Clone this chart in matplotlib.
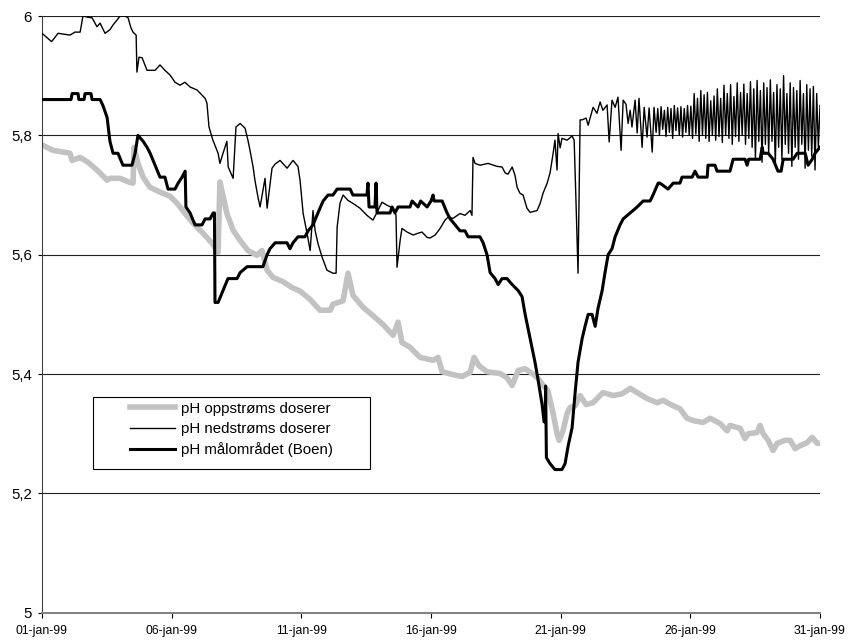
import numpy as np
import matplotlib
matplotlib.use("Agg")
import matplotlib.pyplot as plt
from matplotlib.patches import Rectangle
from matplotlib import font_manager as fm

# ---------------- data (day of January 1999, pH) ----------------
up_days = [1.00, 1.42, 2.08, 2.16, 2.47, 2.77, 3.12, 3.51, 3.62, 4.01, 4.39, 4.51, 4.55, 4.70,
           4.90, 5.16, 5.55, 5.94, 6.21, 6.52, 6.82, 7.21, 7.56, 7.79, 7.86, 8.13, 8.37, 8.64,
           8.94, 9.29, 9.48, 9.68, 9.91, 10.29, 10.64, 10.95, 11.34, 11.72, 12.11, 12.22, 12.61,
           12.80, 12.99, 13.38, 13.76, 14.15, 14.54, 14.73, 14.88, 15.19, 15.58, 16.08, 16.27,
           16.43, 16.85, 17.20, 17.51, 17.66, 17.85, 18.16, 18.66, 18.93, 19.13, 19.36, 19.63,
           19.90, 20.13, 20.32, 20.51, 20.71, 20.86, 20.94, 21.09, 21.25, 21.36, 21.56, 21.75,
           21.98, 22.25, 22.63, 23.02, 23.37, 23.68, 23.95, 24.33, 24.72, 24.95, 25.33, 25.60,
           25.87, 26.11, 26.49, 26.76, 27.15, 27.42, 27.53, 27.92, 28.11, 28.23, 28.57, 28.69,
           28.81, 29.00, 29.19, 29.35, 29.65, 29.85, 30.04, 30.23, 30.50, 30.70, 30.89, 31.00]
up_vals = [5.784, 5.775, 5.770, 5.758, 5.763, 5.755, 5.742, 5.725, 5.728, 5.728, 5.721, 5.720,
           5.780, 5.753, 5.730, 5.713, 5.705, 5.698, 5.686, 5.669, 5.653, 5.636, 5.619, 5.604,
           5.722, 5.669, 5.641, 5.624, 5.607, 5.599, 5.607, 5.574, 5.562, 5.555, 5.545, 5.539,
           5.525, 5.507, 5.507, 5.517, 5.523, 5.569, 5.532, 5.512, 5.498, 5.483, 5.465, 5.487,
           5.453, 5.445, 5.428, 5.423, 5.428, 5.404, 5.399, 5.396, 5.403, 5.428, 5.414, 5.404,
           5.401, 5.394, 5.381, 5.406, 5.409, 5.401, 5.393, 5.381, 5.372, 5.334, 5.300, 5.289,
           5.305, 5.334, 5.344, 5.347, 5.364, 5.349, 5.352, 5.369, 5.364, 5.367, 5.376, 5.369,
           5.359, 5.352, 5.356, 5.347, 5.342, 5.326, 5.322, 5.319, 5.326, 5.317, 5.305, 5.314,
           5.309, 5.292, 5.300, 5.302, 5.314, 5.300, 5.289, 5.272, 5.284, 5.289, 5.289, 5.275,
           5.280, 5.285, 5.294, 5.284, 5.284]

down_days = [1.00, 1.37, 1.62, 2.08, 2.27, 2.47, 2.58, 2.77, 2.93, 3.12, 3.24, 3.43, 3.62, 3.74,
             3.89, 4.01, 4.20, 4.32, 4.43, 4.51, 4.63, 4.66, 4.74, 4.86, 5.05, 5.36, 5.55, 5.74,
             5.94, 6.13, 6.32, 6.51, 6.71, 6.98, 7.09, 7.29, 7.36, 7.44, 7.59, 7.79, 7.86, 7.98,
             8.13, 8.18, 8.37, 8.48, 8.64, 8.83, 8.94, 9.02, 9.14, 9.21, 9.33, 9.41, 9.60, 9.68,
             9.87, 9.99, 10.18, 10.45, 10.68, 10.87, 10.95, 11.07, 11.22, 11.34, 11.45, 11.53,
             11.64, 11.80, 11.99, 12.22, 12.34, 12.38, 12.49, 12.61, 12.80, 12.99, 13.26, 13.53,
             13.76, 13.92, 14.11, 14.30, 14.54, 14.65, 14.69, 14.81, 14.88, 15.08, 15.31, 15.50,
             15.65, 15.85, 15.96, 16.16, 16.35, 16.54, 16.66, 16.85, 17.12, 17.31, 17.51, 17.58,
             17.62, 17.70, 17.89, 18.20, 18.55, 18.74, 18.86, 18.97, 19.13, 19.24, 19.32, 19.43,
             19.55, 19.70, 19.82, 20.09, 20.21, 20.32, 20.48, 20.59, 20.71, 20.78, 20.86, 20.90,
             20.98, 21.05, 21.25, 21.44, 21.52, 21.59, 21.67, 21.75, 21.83, 21.98, 22.06, 22.25,
             22.40, 22.52, 22.63, 22.79, 22.87, 22.98, 23.10, 23.21, 23.33, 23.41, 23.52, 23.60,
             23.68, 23.75, 23.87, 23.95, 24.02, 24.14, 24.22, 24.33, 24.41, 24.53, 24.60]
down_vals = [5.971, 5.957, 5.971, 5.968, 5.973, 5.973, 6.000, 5.998, 5.997, 5.982, 5.988, 5.971,
             5.977, 5.985, 5.993, 6.000, 6.000, 5.997, 5.980, 5.973, 5.968, 5.906, 5.931, 5.930,
             5.909, 5.909, 5.918, 5.909, 5.901, 5.889, 5.884, 5.889, 5.881, 5.876, 5.871, 5.862,
             5.854, 5.814, 5.792, 5.770, 5.753, 5.770, 5.790, 5.747, 5.728, 5.814, 5.820, 5.812,
             5.792, 5.775, 5.747, 5.725, 5.696, 5.680, 5.728, 5.678, 5.745, 5.752, 5.758, 5.745,
             5.758, 5.748, 5.725, 5.669, 5.636, 5.607, 5.674, 5.641, 5.619, 5.596, 5.574, 5.569,
             5.569, 5.646, 5.686, 5.700, 5.691, 5.686, 5.678, 5.666, 5.658, 5.671, 5.688, 5.683,
             5.678, 5.666, 5.579, 5.624, 5.644, 5.638, 5.633, 5.636, 5.638, 5.629, 5.628, 5.633,
             5.644, 5.658, 5.663, 5.661, 5.669, 5.666, 5.674, 5.666, 5.763, 5.753, 5.750, 5.753,
             5.748, 5.747, 5.737, 5.735, 5.747, 5.733, 5.713, 5.703, 5.700, 5.678, 5.671, 5.674,
             5.686, 5.703, 5.720, 5.737, 5.770, 5.792, 5.742, 5.803, 5.779, 5.795, 5.792, 5.799,
             5.792, 5.691, 5.569, 5.826, 5.826, 5.829, 5.817, 5.847, 5.837, 5.856, 5.842, 5.851,
             5.789, 5.859, 5.847, 5.864, 5.775, 5.859, 5.852, 5.820, 5.842, 5.814, 5.859, 5.804,
             5.862, 5.780, 5.847, 5.797, 5.846, 5.772, 5.847]

# regularly sampled tail of the downstream series (24.68 .. 31.00 jan)
down_tail_start = 24.68
down_tail_end = 31.00
down_tail_vals = [5.805, 5.845, 5.800, 5.848, 5.810, 5.842, 5.798, 5.847, 5.805, 5.845,
                  5.795, 5.850, 5.808, 5.846, 5.800, 5.848, 5.797, 5.845, 5.805, 5.850,
                  5.800, 5.849, 5.795, 5.870, 5.802, 5.862, 5.790, 5.875, 5.800, 5.868,
                  5.795, 5.872, 5.790, 5.858, 5.800, 5.866, 5.792, 5.878, 5.798, 5.862,
                  5.788, 5.884, 5.800, 5.870, 5.795, 5.885, 5.785, 5.865, 5.798, 5.888,
                  5.790, 5.872, 5.800, 5.886, 5.785, 5.870, 5.795, 5.890, 5.780, 5.878,
                  5.760, 5.892, 5.790, 5.875, 5.755, 5.888, 5.785, 5.880, 5.770, 5.893,
                  5.790, 5.872, 5.750, 5.885, 5.780, 5.878, 5.760, 5.900, 5.785, 5.870,
                  5.770, 5.888, 5.748, 5.880, 5.780, 5.875, 5.760, 5.892, 5.785, 5.870,
                  5.745, 5.885, 5.775, 5.878, 5.765, 5.882, 5.742, 5.870, 5.780, 5.850]

target_days = [1.00, 2.12, 2.16, 2.39, 2.42, 2.62, 2.66, 2.89, 2.93, 3.24, 3.35, 3.51, 3.62, 3.74,
               3.93, 4.12, 4.47, 4.59, 4.70, 4.90, 5.05, 5.17, 5.36, 5.55, 5.74, 5.86, 6.13, 6.25,
               6.40, 6.52, 6.55, 6.71, 6.90, 7.17, 7.29, 7.48, 7.60, 7.65, 7.67, 7.79, 7.98, 8.17,
               8.52, 8.64, 8.91, 9.52, 9.68, 9.79, 9.99, 10.45, 10.56, 10.68, 10.87, 11.14, 11.26,
               11.45, 11.64, 11.84, 12.03, 12.22, 12.38, 12.88, 12.99, 13.53, 13.57, 13.61, 13.84,
               13.88, 13.92, 14.42, 14.50, 14.61, 14.73, 15.19, 15.27, 15.50, 15.60, 15.85, 16.00,
               16.08, 16.12, 16.43, 16.62, 16.74, 16.93, 17.12, 17.31, 17.43, 17.78, 17.89, 18.01,
               18.16, 18.28, 18.47, 18.59, 18.74, 18.93, 19.13, 19.36, 19.51, 19.63, 19.82, 20.01,
               20.13, 20.28, 20.36, 20.40, 20.42, 20.45, 20.59, 20.78, 21.05, 21.17, 21.29, 21.44,
               21.56, 21.67, 21.83, 21.94, 22.06, 22.21, 22.33, 22.44, 22.60, 22.71, 22.83, 22.98,
               23.10, 23.29, 23.41, 23.68, 23.95, 24.18, 24.45, 24.56, 24.76, 24.83, 25.14, 25.34,
               25.60, 25.68, 26.07, 26.18, 26.30, 26.65, 26.68, 26.95, 27.03, 27.53, 27.65, 28.11,
               28.19, 28.25, 28.69, 28.77, 28.81, 29.00, 29.19, 29.38, 29.50, 29.58, 29.96, 30.12,
               30.43, 30.54, 30.70, 30.81, 31.00]
target_vals = [5.86, 5.86, 5.87, 5.87, 5.86, 5.86, 5.87, 5.87, 5.86, 5.86, 5.85, 5.83, 5.79, 5.77,
               5.77, 5.75, 5.75, 5.77, 5.80, 5.79, 5.78, 5.77, 5.75, 5.73, 5.73, 5.71, 5.71, 5.72,
               5.73, 5.74, 5.68, 5.67, 5.65, 5.65, 5.66, 5.66, 5.67, 5.67, 5.52, 5.52, 5.54, 5.56,
               5.56, 5.57, 5.58, 5.58, 5.60, 5.61, 5.62, 5.62, 5.61, 5.62, 5.63, 5.63, 5.64,
               5.65, 5.67, 5.69, 5.70, 5.70, 5.71, 5.71, 5.70, 5.70, 5.72, 5.68, 5.68,
               5.72, 5.67, 5.67, 5.68, 5.67, 5.68, 5.68, 5.69, 5.68, 5.69, 5.68, 5.69,
               5.70, 5.69, 5.69, 5.67, 5.66, 5.65, 5.64, 5.64, 5.63, 5.63, 5.63, 5.62,
               5.60, 5.57, 5.56, 5.55, 5.56, 5.56, 5.55, 5.54, 5.53, 5.50, 5.46, 5.42,
               5.39, 5.35, 5.32, 5.32, 5.38, 5.26, 5.25, 5.24, 5.24, 5.25, 5.28, 5.31,
               5.37, 5.42, 5.46, 5.48, 5.50, 5.50, 5.48, 5.51, 5.54, 5.57, 5.60, 5.61,
               5.63, 5.65, 5.66, 5.67, 5.68, 5.69, 5.69, 5.70, 5.72, 5.72, 5.71, 5.72,
               5.72, 5.73, 5.73, 5.74, 5.73, 5.73, 5.75, 5.75, 5.74, 5.74, 5.76, 5.76,
               5.75, 5.76, 5.76, 5.78, 5.77, 5.77, 5.76, 5.74, 5.74, 5.76, 5.76, 5.77,
               5.77, 5.75, 5.76, 5.77, 5.78]

series_labels = ["pH oppstrøms doserer", "pH nedstrøms doserer", "pH målområdet (Boen)"]
x_tick_days = [1, 6, 11, 16, 21, 26, 31]
x_tick_labels = ["01-jan-99", "06-jan-99", "11-jan-99", "16-jan-99", "21-jan-99", "26-jan-99", "31-jan-99"]
y_ticks = [5.0, 5.2, 5.4, 5.6, 5.8, 6.0]
y_tick_labels = ["5", "5,2", "5,4", "5,6", "5,8", "6"]

# ---------------- figure ----------------
plt.rcParams['font.family'] = ['Liberation Sans', 'DejaVu Sans']


def has_font(name):
    try:
        fm.findfont(fm.FontProperties(family=name), fallback_to_default=False)
        return True
    except Exception:
        return False


fig = plt.figure(figsize=(8.52, 6.44), dpi=100)
W, H = 852, 644
left, right, top, bottom = 42, 820, 16, 612.8
ax = fig.add_axes([left / W, 1 - bottom / H, (right - left) / W, (bottom - top) / H])

tail_days = np.linspace(down_tail_start, down_tail_end, len(down_tail_vals))
all_down_days = list(down_days) + list(tail_days)
all_down_vals = list(down_vals) + list(down_tail_vals)

l1, = ax.plot(up_days, up_vals, color='#c2c2c2', lw=4.0, zorder=2, label=series_labels[0])
l2, = ax.plot(all_down_days, all_down_vals, color='black', lw=1.0, zorder=3, label=series_labels[1])
l3, = ax.plot(target_days, target_vals, color='black', lw=2.2, zorder=4, label=series_labels[2])

ax.set_xlim(1, 31)
ax.set_ylim(5.0, 6.0)
ax.set_xticks(x_tick_days)
ax.set_yticks(y_ticks)
ax.set_yticklabels(y_tick_labels)

if has_font('Liberation Sans Narrow'):
    xfp = dict(family=['Liberation Sans Narrow', 'DejaVu Sans'], size=10)
else:
    xfp = dict(family=['Liberation Sans', 'DejaVu Sans'], size=8.8)
ax.set_xticklabels(x_tick_labels, fontdict=xfp)
for t in ax.get_yticklabels():
    t.set_fontsize(10.8)

ax.tick_params(axis='y', direction='out', length=2.7, width=0.8, pad=4.5, colors='black')
ax.tick_params(axis='x', direction='out', length=3.6, width=0.8, pad=5.0, colors='black')

for s in ('top', 'right'):
    ax.spines[s].set_visible(False)
ax.spines['left'].set_color('#404040')
ax.spines['left'].set_linewidth(0.8)
ax.spines['bottom'].set_color('#808080')
ax.spines['bottom'].set_linewidth(1.4)

ax.yaxis.grid(True, color='#202020', lw=0.8)
ax.set_axisbelow(True)

# legend box
ax.add_patch(Rectangle(((93 - left) / (right - left), (bottom - 469) / (bottom - top)),
                       (370 - 93) / (right - left), (469 - 397) / (bottom - top),
                       transform=ax.transAxes, facecolor='white', edgecolor='black',
                       lw=0.8, zorder=5))
leg = ax.legend(handles=[l1, l2, l3], loc='upper left',
                bbox_to_anchor=((130 - left) / (right - left), (bottom - 401.5) / (bottom - top)),
                frameon=False, borderpad=0, borderaxespad=0, handlelength=3.0,
                handletextpad=0.4, labelspacing=0.43, prop=dict(size=10.8))
leg.set_zorder(6)

fig.savefig('out.png', dpi=100)
